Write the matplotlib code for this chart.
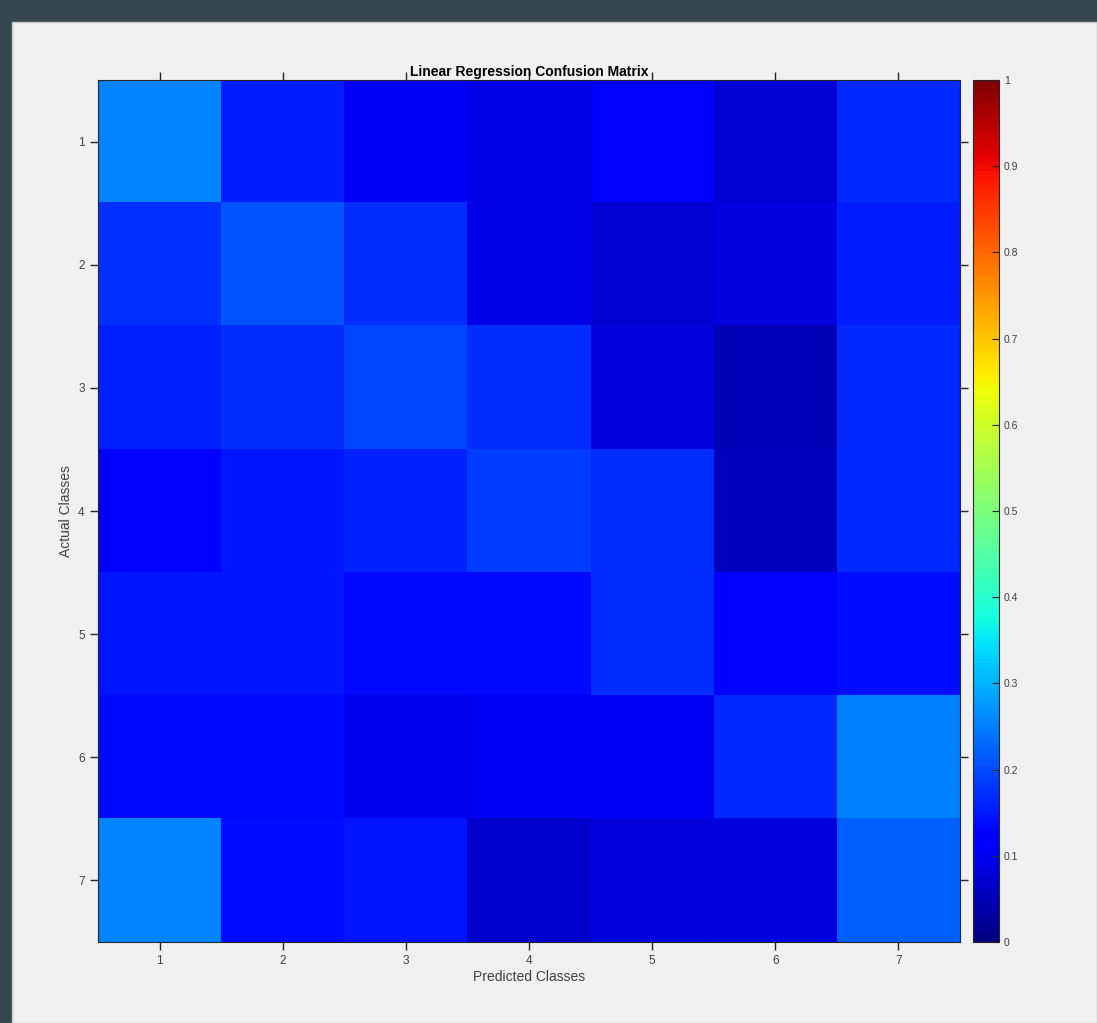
import numpy as np
import matplotlib.pyplot as plt
from matplotlib.patches import Rectangle

plt.rcParams['font.family'] = ['Liberation Sans', 'DejaVu Sans']

classes = [1, 2, 3, 4, 5, 6, 7]

# confusion matrix values (rows = actual, cols = predicted)
row1 = [0.257, 0.156, 0.102, 0.092, 0.118, 0.075, 0.165]
row2 = [0.174, 0.208, 0.170, 0.090, 0.073, 0.085, 0.155]
row3 = [0.160, 0.170, 0.194, 0.170, 0.080, 0.050, 0.165]
row4 = [0.110, 0.145, 0.160, 0.185, 0.170, 0.058, 0.165]
row5 = [0.145, 0.145, 0.135, 0.135, 0.170, 0.125, 0.140]
row6 = [0.135, 0.135, 0.100, 0.105, 0.105, 0.165, 0.250]
row7 = [0.255, 0.140, 0.145, 0.070, 0.080, 0.085, 0.220]

conf = np.array([row1, row2, row3, row4, row5, row6, row7])

W, H = 1097, 1023
fig = plt.figure(figsize=(W / 100, H / 100), dpi=100, facecolor='#37474f')

# light window panel
fig.patches.append(Rectangle((12 / W, 0), 1 - 12 / W, 1 - 22 / H, transform=fig.transFigure,
                             facecolor='#f0f0f0', edgecolor='#c8c8c8', lw=1, zorder=-10))

ax = fig.add_axes([98 / W, 81 / H, 862 / W, 862 / H])
im = ax.imshow(conf, cmap='jet', vmin=0, vmax=1, aspect='auto',
               extent=[0.5, 7.5, 7.5, 0.5], interpolation='nearest')

ax.set_xticks(classes)
ax.set_yticks(classes)
ax.tick_params(direction='out', length=6, width=1, colors='#262626', labelcolor='#404040',
               labelsize=8.5, top=True, right=True)
for s in ax.spines.values():
    s.set_color('#262626')
ax.set_xlabel('Predicted Classes', fontsize=10, color='#404040', labelpad=2)
ax.set_ylabel('Actual Classes', fontsize=10, color='#404040', labelpad=4)
ax.set_title('Linear Regression Confusion Matrix', fontsize=10, fontweight='bold', pad=3)

cax = fig.add_axes([973 / W, 81 / H, 26 / W, 862 / H])
cb = fig.colorbar(im, cax=cax)
cb.set_ticks(np.linspace(0, 1, 11))
cb.set_ticklabels(['0', '0.1', '0.2', '0.3', '0.4', '0.5', '0.6', '0.7', '0.8', '0.9', '1'])
cax.tick_params(direction='in', length=5, colors='#262626', labelcolor='#404040', labelsize=7.5)
cb.outline.set_edgecolor('#262626')

fig.savefig('out.png', dpi=100, facecolor=fig.get_facecolor())
